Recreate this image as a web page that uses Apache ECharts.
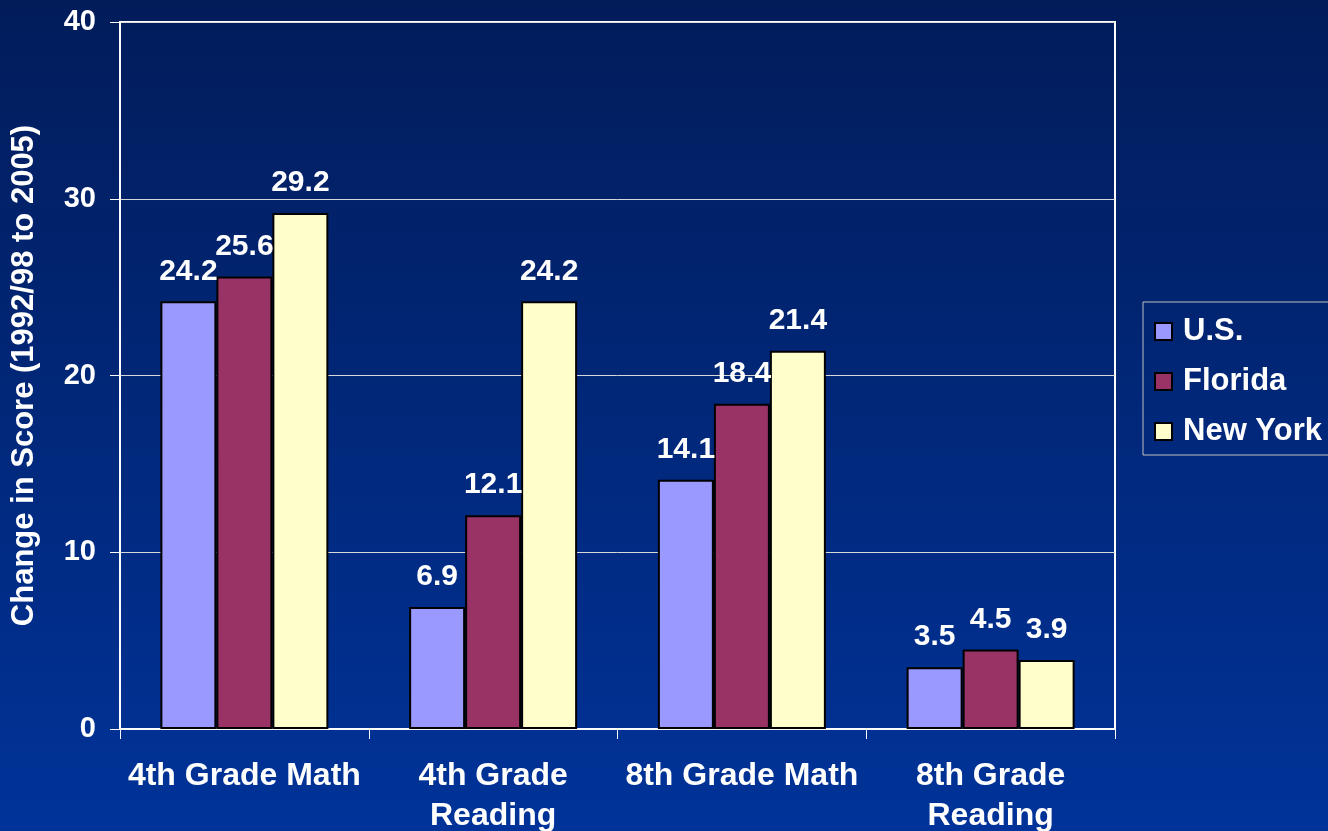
<!DOCTYPE html>
<html>
<head>
<meta charset="utf-8">
<title>Change in Score</title>
<script src="https://cdn.jsdelivr.net/npm/echarts@6/dist/echarts.min.js"></script>
<style>
  html, body { margin: 0; padding: 0; }
  #chart { width: 1328px; height: 831px; }
</style>
</head>
<body>
<div id="chart"></div>
<script>
const categories = ["4th Grade Math", "4th Grade\nReading", "8th Grade Math", "8th Grade\nReading"];
const seriesNames = ["U.S.", "Florida", "New York"];
const usValues = [24.2, 6.9, 14.1, 3.5];
const floridaValues = [25.6, 12.1, 18.4, 4.5];
const newYorkValues = [29.2, 24.2, 21.4, 3.9];
const yTicks = [0, 10, 20, 30, 40];

const FONT = "'Liberation Sans', Arial, sans-serif";
const colors = ["#9999FF", "#993366", "#FFFFCC"];

const chart = echarts.init(document.getElementById("chart"));

// one bar series per state, all styled the same way
const makeSeries = (name, values, color) => ({
  name: name,
  type: "bar",
  data: values,
  barWidth: 56,
  barGap: "0%",
  itemStyle: {
    color: color,
    borderColor: "#000000",
    borderWidth: 2,
  },
  label: {
    show: true,
    position: "top",
    distance: 15,
    color: "#FFFFFF",
    fontFamily: FONT,
    fontWeight: "bold",
    fontSize: 30,
    formatter: (p) => p.value.toFixed(1),
  },
});

const option = {
  backgroundColor: {
    type: "linear",
    x: 0, y: 0, x2: 0, y2: 1,
    colorStops: [
      { offset: 0, color: "#021c5a" },
      { offset: 1, color: "#003399" },
    ],
  },
  animation: false,
  textStyle: { fontFamily: FONT },
  grid: {
    left: 120,
    right: 213,
    top: 22,
    bottom: 102,
    outerBoundsMode: "none",
    containLabel: false,
    show: true,
    borderColor: "#FFFFFF",
    borderWidth: 2,
    backgroundColor: "transparent",
  },
  legend: {
    data: seriesNames,
    orient: "vertical",
    left: 1143,
    top: 302,
    padding: [14, 80, 8, 11],
    itemWidth: 17,
    itemHeight: 17,
    itemGap: 19,
    borderColor: "#C0C0C0",
    borderWidth: 1,
    icon: "rect",
    textStyle: {
      color: "#FFFFFF",
      fontWeight: "bold",
      fontSize: 31,
      fontFamily: FONT,
      padding: [0, 0, 0, 6],
    },
  },
  xAxis: {
    type: "category",
    data: categories,
    axisLine: { lineStyle: { color: "#FFFFFF", width: 2 } },
    axisTick: { show: true, alignWithLabel: false, length: 10, lineStyle: { color: "#FFFFFF" } },
    axisLabel: {
      color: "#FFFFFF",
      fontWeight: "bold",
      fontSize: 32,
      fontFamily: FONT,
      lineHeight: 40,
      margin: 27,
      interval: 0,
    },
  },
  yAxis: {
    type: "value",
    min: yTicks[0],
    max: yTicks[yTicks.length - 1],
    interval: 10,
    name: "Change in Score (1992/98 to 2005)",
    nameLocation: "middle",
    nameGap: 80,
    nameTextStyle: {
      color: "#FFFFFF",
      fontWeight: "bold",
      fontSize: 31,
      fontFamily: FONT,
    },
    axisLine: { show: true, lineStyle: { color: "#FFFFFF", width: 2 } },
    axisTick: { show: true, length: 10, lineStyle: { color: "#FFFFFF" } },
    axisLabel: {
      color: "#FFFFFF",
      fontWeight: "bold",
      fontSize: 29,
      fontFamily: FONT,
      margin: 24,
    },
    splitLine: { lineStyle: { color: "#D8D8D8", width: 1 } },
  },
  series: [
    makeSeries(seriesNames[0], usValues, colors[0]),
    makeSeries(seriesNames[1], floridaValues, colors[1]),
    makeSeries(seriesNames[2], newYorkValues, colors[2]),
  ],
};

chart.setOption(option);
</script>
</body>
</html>
